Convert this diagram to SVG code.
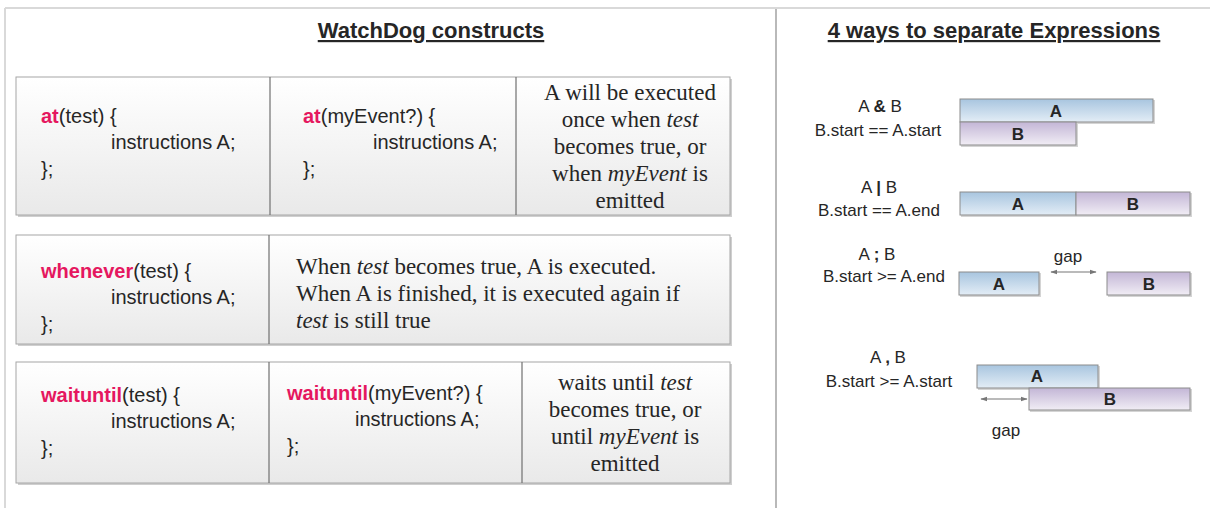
<svg xmlns="http://www.w3.org/2000/svg" width="1210" height="508" viewBox="0 0 1210 508">
<defs>
<linearGradient id="gCell" x1="0" y1="0" x2="0" y2="1">
<stop offset="0" stop-color="#ffffff"/>
<stop offset="1" stop-color="#e9e9e9"/>
</linearGradient>
<linearGradient id="gA" x1="0" y1="0" x2="0" y2="1">
<stop offset="0" stop-color="#a8c5df"/>
<stop offset="1" stop-color="#e3edf6"/>
</linearGradient>
<linearGradient id="gB" x1="0" y1="0" x2="0" y2="1">
<stop offset="0" stop-color="#c3b6d6"/>
<stop offset="1" stop-color="#f1edf5"/>
</linearGradient>
<marker id="ah" viewBox="0 0 10 10" refX="9" refY="5" markerWidth="7" markerHeight="7" orient="auto-start-reverse" markerUnits="userSpaceOnUse">
<path d="M0,1.5 L10,5 L0,8.5 Z" fill="#777"/>
</marker>
</defs>
<style>
.frame{stroke:#d9d9d9;stroke-width:2;fill:none}
.div{stroke:#8a8a8a;stroke-width:1.2}
.tbl{fill:url(#gCell);stroke:#a6a6a6;stroke-width:1}
.shadow{fill:#cfcfcf}
.col{stroke:#707070;stroke-width:1.2}
.title{font-family:"Liberation Sans",Arial,sans-serif;font-weight:bold;font-size:22px;fill:#262626;text-decoration:underline}
.code{font-family:"Liberation Sans",Arial,sans-serif;font-size:20px;fill:#262626}
.kw{fill:#e5175f;font-weight:bold}
.ser{font-family:"Liberation Serif","Times New Roman",serif;font-size:23px;fill:#262626}
.lbl{font-family:"Liberation Sans",Arial,sans-serif;font-size:17px;fill:#262626}
.bold{font-weight:bold}
.barA{fill:url(#gA);stroke:#8c8c8c;stroke-width:1}
.barB{fill:url(#gB);stroke:#8c8c8c;stroke-width:1}
.bsh{fill:#d4d4d4}
.bt{font-family:"Liberation Sans",Arial,sans-serif;font-size:17px;font-weight:bold;fill:#262626;text-anchor:middle}
.arr{stroke:#777;stroke-width:1.2;fill:none;marker-start:url(#ah);marker-end:url(#ah)}
</style>
<rect width="1210" height="508" fill="#ffffff"/>
<g id="frame">
<line class="frame" x1="5" y1="8" x2="1210" y2="8"/>
<line class="frame" x1="5" y1="8" x2="5" y2="508" stroke-width="1.5"/>
<line class="div" x1="776" y1="9" x2="776" y2="508"/>
</g>
<g id="titles">
<text class="title" x="431" y="38" text-anchor="middle">WatchDog constructs</text>
<text class="title" x="994" y="38" text-anchor="middle">4 ways to separate Expressions</text>
</g>
<g id="table-at">
<rect class="shadow" x="18" y="79" width="714" height="138"/>
<rect class="tbl" x="16" y="77" width="714" height="138"/>
<line class="col" x1="270" y1="77" x2="270" y2="215"/>
<line class="col" x1="516" y1="77" x2="516" y2="215"/>
<text class="code" x="41" y="123"><tspan class="kw">at</tspan>(test) {</text>
<text class="code" x="111" y="149">instructions A;</text>
<text class="code" x="41" y="176">};</text>
<text class="code" x="303" y="123"><tspan class="kw">at</tspan>(myEvent?) {</text>
<text class="code" x="373" y="149">instructions A;</text>
<text class="code" x="303" y="176">};</text>
<text class="ser" text-anchor="middle" x="630" y="100">A will be executed</text>
<text class="ser" text-anchor="middle" x="630" y="127">once when <tspan font-style="italic">test</tspan></text>
<text class="ser" text-anchor="middle" x="630" y="154">becomes true, or</text>
<text class="ser" text-anchor="middle" x="630" y="181">when <tspan font-style="italic">myEvent</tspan> is</text>
<text class="ser" text-anchor="middle" x="630" y="208">emitted</text>
</g>
<g id="table-whenever">
<rect class="shadow" x="18" y="237" width="714" height="109"/>
<rect class="tbl" x="16" y="235" width="714" height="109"/>
<line class="col" x1="269" y1="235" x2="269" y2="344"/>
<text class="code" x="41" y="278"><tspan class="kw">whenever</tspan>(test) {</text>
<text class="code" x="111" y="304">instructions A;</text>
<text class="code" x="41" y="331">};</text>
<text class="ser" x="296" y="274">When <tspan font-style="italic">test</tspan> becomes true, A is executed.</text>
<text class="ser" x="296" y="301">When A is finished, it is executed again if</text>
<text class="ser" x="296" y="328"><tspan font-style="italic">test</tspan> is still true</text>
</g>
<g id="table-waituntil">
<rect class="shadow" x="18" y="364" width="714" height="121"/>
<rect class="tbl" x="16" y="362" width="714" height="121"/>
<line class="col" x1="269" y1="362" x2="269" y2="483"/>
<line class="col" x1="522" y1="362" x2="522" y2="483"/>
<text class="code" x="41" y="402"><tspan class="kw">waituntil</tspan>(test) {</text>
<text class="code" x="111" y="428">instructions A;</text>
<text class="code" x="41" y="455">};</text>
<text class="code" x="287" y="400"><tspan class="kw">waituntil</tspan>(myEvent?) {</text>
<text class="code" x="355" y="426">instructions A;</text>
<text class="code" x="287" y="453">};</text>
<text class="ser" text-anchor="middle" x="625" y="390">waits until <tspan font-style="italic">test</tspan></text>
<text class="ser" text-anchor="middle" x="625" y="417">becomes true, or</text>
<text class="ser" text-anchor="middle" x="625" y="444">until <tspan font-style="italic">myEvent</tspan> is</text>
<text class="ser" text-anchor="middle" x="625" y="471">emitted</text>
</g>
<g id="expr-and">
<text class="lbl" x="880" y="112" text-anchor="middle">A <tspan class="bold">&amp;</tspan> B</text>
<text class="lbl" x="878" y="136" text-anchor="middle">B.start == A.start</text>
<rect class="bsh" x="961" y="100" width="194" height="24"/>
<rect class="barA" x="960" y="99" width="193" height="23"/>
<rect class="bsh" x="961" y="123" width="117" height="24"/>
<rect class="barB" x="960" y="122" width="116" height="23"/>
<text class="bt" x="1056" y="117">A</text>
<text class="bt" x="1018" y="140">B</text>
</g>
<g id="expr-or">
<text class="lbl" x="879" y="193" text-anchor="middle">A <tspan class="bold">|</tspan> B</text>
<text class="lbl" x="879" y="216" text-anchor="middle">B.start == A.end</text>
<rect class="bsh" x="961" y="193" width="231" height="24"/>
<rect class="barA" x="960" y="192" width="116" height="23"/>
<rect class="barB" x="1076" y="192" width="114" height="23"/>
<text class="bt" x="1018" y="210">A</text>
<text class="bt" x="1133" y="210">B</text>
</g>
<g id="expr-seq">
<text class="lbl" x="877" y="260" text-anchor="middle">A <tspan class="bold">;</tspan> B</text>
<text class="lbl" x="884" y="282" text-anchor="middle">B.start &gt;= A.end</text>
<rect class="bsh" x="960" y="273" width="81" height="24"/>
<rect class="barA" x="959" y="272" width="80" height="23"/>
<rect class="bsh" x="1108" y="273" width="84" height="24"/>
<rect class="barB" x="1107" y="272" width="83" height="23"/>
<text class="bt" x="999" y="290">A</text>
<text class="bt" x="1149" y="290">B</text>
<text class="lbl" x="1068" y="262" text-anchor="middle">gap</text>
</g>
<g id="expr-par">
<text class="lbl" x="888" y="363" text-anchor="middle">A <tspan class="bold">,</tspan> B</text>
<text class="lbl" x="889" y="387" text-anchor="middle">B.start &gt;= A.start</text>
<rect class="bsh" x="978" y="366" width="122" height="24"/>
<rect class="barA" x="977" y="365" width="121" height="23"/>
<rect class="bsh" x="1030" y="389" width="162" height="23"/>
<rect class="barB" x="1029" y="388" width="161" height="22"/>
<text class="bt" x="1037" y="382">A</text>
<text class="bt" x="1110" y="405">B</text>
<text class="lbl" x="1006" y="436" text-anchor="middle">gap</text>
</g>
<g id="connectors">
<line class="arr" x1="1051" y1="272" x2="1096" y2="272"/>
<line class="arr" x1="981" y1="399" x2="1027" y2="399"/>
</g>
</svg>
